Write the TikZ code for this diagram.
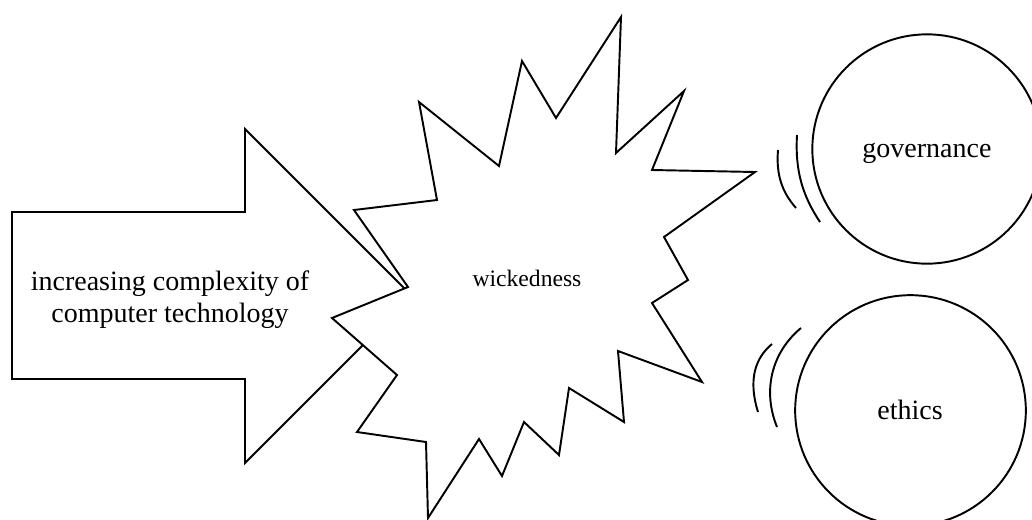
\documentclass[tikz,border=0pt]{standalone}
\usepackage{fontspec}
\setmainfont{Liberation Serif}
\begin{document}
\begin{tikzpicture}[x=0.75pt,y=-0.75pt,
  outline/.style={draw=black, line width=1.45pt, line join=miter},
  swoosh/.style={draw=black, line width=1.45pt},
  bigtext/.style={inner sep=0pt, font=\fontsize{21}{24}\selectfont},
  startext/.style={inner sep=0pt, font=\fontsize{17.7}{20}\selectfont},
  ring/.style={circle, draw=black, line width=1.45pt, inner sep=0pt}]
\useasboundingbox (0,0) rectangle (1032,519);
\clip (0,0) rectangle (1032,519);

% big arrow
\draw[outline, fill=white] (12,212) -- (245,212) -- (245,129) -- (412,296)
  -- (245,463) -- (245,379) -- (12,379) -- cycle;
\node[bigtext, align=center, anchor=base] (arrowtext) at (170,322)
  {increasing complexity of\\computer technology};

% explosion star
\draw[outline, fill=white] (354,210) -- (437,200) -- (419,102) -- (499,166)
  -- (522,61) -- (556,118) -- (621,17) -- (616,153) -- (684,91) -- (652,170)
  -- (755,172) -- (664,237) -- (688,280) -- (652,303) -- (702,382) -- (618,351)
  -- (624,422) -- (569,388) -- (559,455) -- (524,422) -- (502,476) -- (479,439)
  -- (428,518) -- (426,442) -- (357,432) -- (397,375) -- (332,318) -- (408,287)
  -- cycle;
\node[startext, anchor=base] (wick) at (527,286) {wickedness};

% circles
\node[ring, minimum size=172pt] (gov) at (927,149) {};
\node[bigtext, anchor=base] (govtext) at (927,157) {governance};
\node[ring, minimum size=173pt] (eth) at (910.5,410.5) {};
\node[bigtext, anchor=base] (ethtext) at (910,419) {ethics};

% motion lines governance
\draw[swoosh] (778,150) .. controls (776,175) and (782,192) .. (796,208);
\draw[swoosh] (797,135) .. controls (795,170) and (802,195) .. (820,222);
% motion lines ethics
\draw[swoosh] (772,344) .. controls (755,358) and (748,380) .. (758,412);
\draw[swoosh] (801,328) .. controls (772,352) and (762,390) .. (777,427);
\end{tikzpicture}
\end{document}
